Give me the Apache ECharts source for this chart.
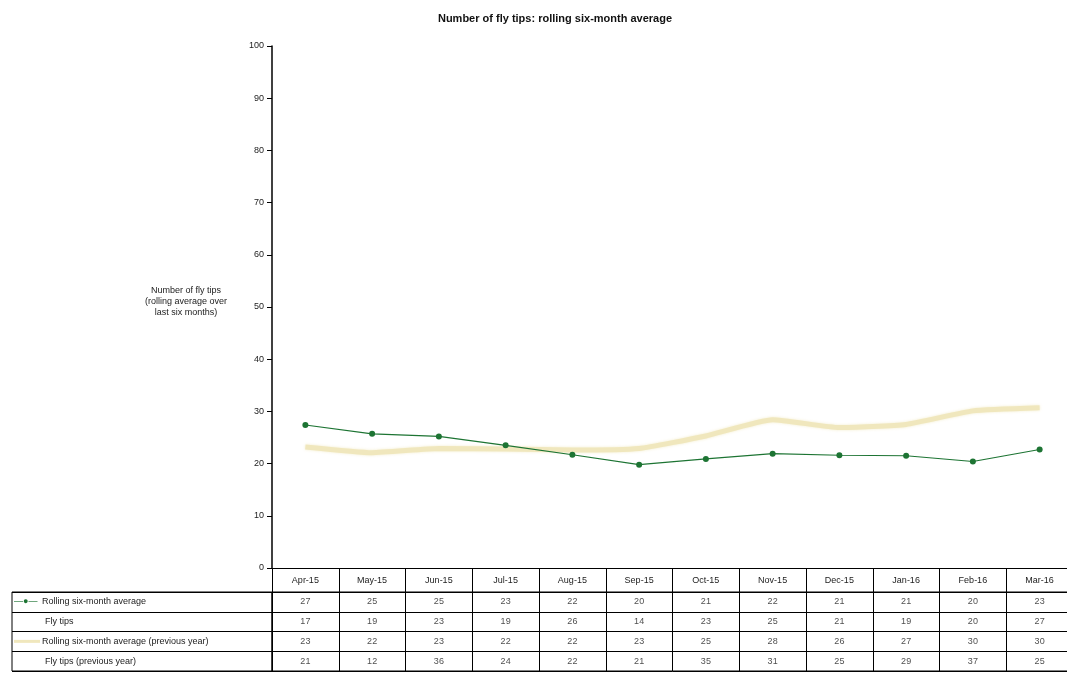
<!DOCTYPE html>
<html>
<head>
<meta charset="utf-8">
<script src="https://cdn.jsdelivr.net/npm/echarts@6/dist/echarts.min.js"></script>
<style>
  html, body { margin: 0; padding: 0; background: #fff; overflow: hidden; }
  /* the last table column runs a few pixels past the right edge in the original */
  #chart { width: 1075px; height: 682px; }
</style>
</head>
<body>
<div id="chart"></div>
<script>
// months along the bottom
var months = ['Apr-15', 'May-15', 'Jun-15', 'Jul-15', 'Aug-15', 'Sep-15', 'Oct-15', 'Nov-15', 'Dec-15', 'Jan-16', 'Feb-16', 'Mar-16'];
// plotted lines
var rollingAvg = [27.4, 25.7, 25.2, 23.5, 21.7, 19.8, 20.9, 21.9, 21.6, 21.5, 20.4, 22.7];
var rollingAvgPrev = [23.2, 22.1, 22.9, 22.8, 22.6, 22.9, 25.3, 28.4, 26.9, 27.5, 30.1, 30.7];
// data table rows (as printed)
var rowNames = ['Rolling six-month average', 'Fly tips', 'Rolling six-month average (previous year)', 'Fly tips (previous year)'];
var rollingAvgTable = [27, 25, 25, 23, 22, 20, 21, 22, 21, 21, 20, 23];
var flyTips = [17, 19, 23, 19, 26, 14, 23, 25, 21, 19, 20, 27];
var rollingAvgPrevTable = [23, 22, 23, 22, 22, 23, 25, 28, 26, 27, 30, 30];
var flyTipsPrev = [21, 12, 36, 24, 22, 21, 35, 31, 25, 29, 37, 25];

var green = '#1d7433';
var pale = '#f0e7bd';
var font = 'Liberation Sans';

var chart = echarts.init(document.getElementById('chart'));

// cells of the table: [column, row, value]
var tableRows = [rollingAvgTable, flyTips, rollingAvgPrevTable, flyTipsPrev];
var cells = [];
tableRows.forEach(function (row, r) {
  row.forEach(function (v, c) {
    cells.push([c, r, v]);
  });
});

var option = {
  backgroundColor: '#fff',
  animation: false,
  title: {
    text: 'Number of fly tips: rolling six-month average',
    left: 550,
    top: 8,
    textAlign: 'center',
    textStyle: { fontFamily: font, fontSize: 11, fontWeight: 'bold', color: '#111' }
  },
  grid: [
    { left: 272, top: 46, width: 801, bottom: 114 },   // chart
    { left: 272, top: 592, width: 801, height: 79, show: true, borderColor: '#000', borderWidth: 1 }, // values
    { left: 12, top: 592, width: 260, height: 79, show: true, borderColor: '#000', borderWidth: 1 }   // row names
  ],
  xAxis: [
    {
      gridIndex: 0,
      type: 'category',
      data: months,
      boundaryGap: true,
      axisLine: { lineStyle: { color: '#000', width: 1 } },
      axisTick: { show: true, length: 24, interval: 0, lineStyle: { color: '#000' } },
      axisLabel: { interval: 0, margin: 8, fontFamily: font, fontSize: 9, color: '#222' },
      splitLine: { show: false }
    },
    {
      gridIndex: 1,
      type: 'category',
      data: months,
      boundaryGap: true,
      axisLine: { show: false },
      axisTick: { show: false },
      axisLabel: { show: false },
      splitLine: { show: true, interval: 0, lineStyle: { color: '#000', width: 1 } }
    },
    {
      gridIndex: 2,
      type: 'category',
      data: [''],
      axisLine: { show: false },
      axisTick: { show: false },
      axisLabel: { show: false },
      splitLine: { show: false }
    }
  ],
  yAxis: [
    {
      gridIndex: 0,
      type: 'value',
      min: 0,
      max: 100,
      interval: 10,
      // trailing blank line lifts the block a little, as in the original
      name: 'Number of fly tips\n(rolling average over\nlast six months)\n ',
      nameLocation: 'middle',
      nameRotate: 0,
      nameGap: 86,
      nameTextStyle: { fontFamily: font, fontSize: 9, color: '#222', align: 'center', lineHeight: 11 },
      axisLine: { show: true, lineStyle: { color: '#000', width: 1.5 } },
      axisTick: { show: true, length: 5, lineStyle: { color: '#000' } },
      axisLabel: { margin: 8, fontFamily: font, fontSize: 9, color: '#222' },
      splitLine: { show: false }
    },
    {
      gridIndex: 1,
      type: 'category',
      data: rowNames,
      inverse: true,
      axisLine: { show: false },
      axisTick: { show: false },
      axisLabel: { show: false },
      splitLine: { show: true, interval: 0, lineStyle: { color: '#000', width: 1 } }
    },
    {
      gridIndex: 2,
      type: 'category',
      data: rowNames,
      inverse: true,
      axisLine: { show: false },
      axisTick: { show: false },
      splitLine: { show: true, interval: 0, lineStyle: { color: '#000', width: 1 } },
      axisLabel: {
        inside: true,
        margin: 2,
        align: 'left',
        interval: 0,
        formatter: function (v, i) {
          if (i === 0) return '{g|—●—}{t|' + v + '}';
          if (i === 2) return '{y|}{s|}{t|' + v + '}';
          return '{b|}{t|' + v + '}';
        },
        rich: {
          g: { color: green, fontSize: 9, width: 28, fontFamily: font },
          y: { backgroundColor: pale, width: 26, height: 3 },
          s: { width: 2 },
          b: { width: 31 },
          t: { fontFamily: font, fontSize: 9, color: '#222' }
        }
      }
    }
  ],
  series: [
    {
      name: 'Rolling six-month average (previous year)',
      type: 'line',
      xAxisIndex: 0,
      yAxisIndex: 0,
      data: rollingAvgPrev,
      smooth: 0.15,
      symbol: 'none',
      lineStyle: { color: pale, width: 5, shadowColor: 'rgba(240,232,190,0.8)', shadowBlur: 3 },
      z: 1
    },
    {
      name: 'Rolling six-month average',
      type: 'line',
      xAxisIndex: 0,
      yAxisIndex: 0,
      data: rollingAvg,
      symbol: 'circle',
      symbolSize: 6,
      lineStyle: { color: green, width: 1.2 },
      itemStyle: { color: green },
      z: 3
    },
    {
      name: 'table',
      type: 'scatter',
      xAxisIndex: 1,
      yAxisIndex: 1,
      data: cells,
      symbolSize: 1,
      itemStyle: { color: 'transparent' },
      label: {
        show: true,
        position: 'inside',
        formatter: function (p) { return p.value[2]; },
        fontFamily: font,
        fontSize: 9,
        color: '#222'
      },
      silent: true
    }
  ]
};

chart.setOption(option);
</script>
</body>
</html>
